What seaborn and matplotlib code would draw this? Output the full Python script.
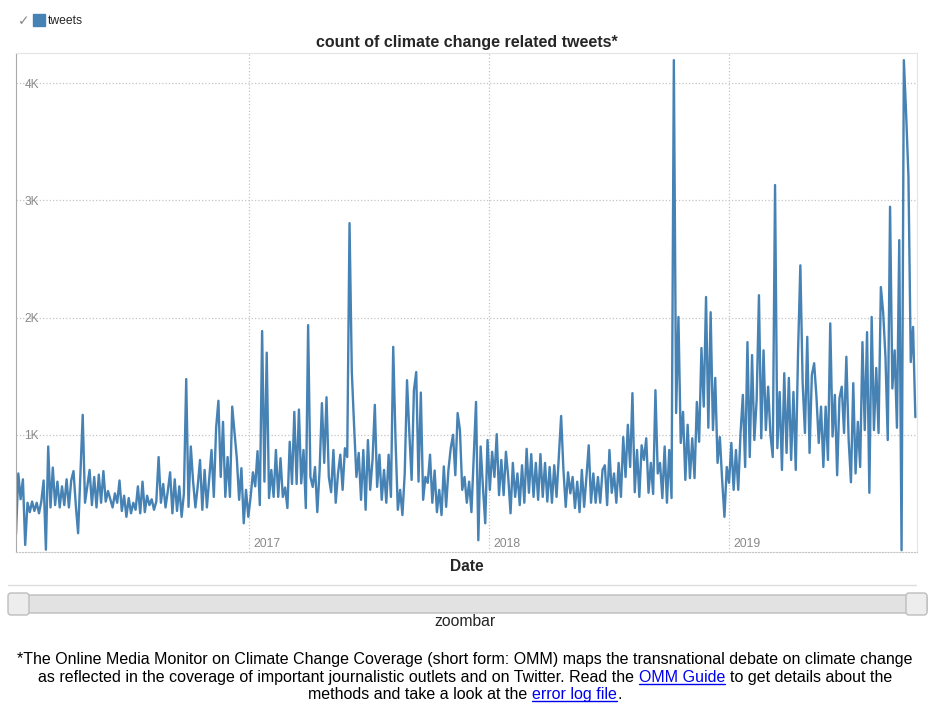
import matplotlib.pyplot as plt
import numpy as np
import pandas as pd
import seaborn as sns
from matplotlib.lines import Line2D
from matplotlib.patches import FancyBboxPatch
from matplotlib.transforms import IdentityTransform, ScaledTranslation

start_date = "2016-01-12"
tweets_2016 = [150, 670, 450, 620, 60, 420, 340, 430, 350, 420,
               330, 430, 610, 20, 900, 380, 720, 400, 600, 380,
               560, 400, 620, 380, 610, 690, 400, 160, 670, 1170,
               420, 560, 700, 400, 640, 380, 660, 420, 690, 430,
               520, 450, 380, 500, 420, 610, 350, 480, 300, 460,
               330, 420, 360, 560, 330, 600, 340, 480, 400, 450,
               360, 430, 810, 420, 580, 380, 520, 680, 330, 620,
               350, 560, 300, 500, 1475, 385, 900, 600, 380, 560,
               785, 360, 700, 380, 620, 870, 470, 1060, 1290, 640,
               1110, 470, 810, 470, 1240, 1025, 800, 445, 715, 245,
               530, 300]
tweets_2017 = [470, 680, 560, 860, 400, 1885, 600, 1700,
               460, 700, 470, 870, 470, 800, 470, 550, 375, 940,
               580, 1195, 580, 1215, 585, 870, 375, 1935, 640, 555,
               725, 340, 700, 1270, 760, 1320, 640, 510, 870, 420,
               670, 830, 530, 885, 810, 2805, 1535, 1070, 640, 845,
               445, 870, 360, 955, 530, 785, 1255, 555, 830, 445,
               700, 420, 830, 470, 1750, 955, 360, 530, 315, 670,
               1465, 1015, 615, 1380, 1535, 600, 1360, 445, 640, 590,
               830, 420, 695, 340, 530, 315, 730, 385, 700, 885,
               1000, 655, 1185, 1040, 530, 640, 420, 600, 340, 810,
               1280, 100, 900, 555, 245, 955]
tweets_2018 = [530, 855, 640, 1005,
               485, 785, 485, 855, 640, 330, 760, 470, 670, 400,
               740, 420, 880, 505, 835, 470, 760, 445, 835, 470,
               760, 430, 725, 420, 740, 470, 810, 1160, 700, 385,
               680, 500, 640, 375, 600, 340, 700, 385, 640, 910,
               420, 670, 420, 640, 420, 700, 740, 400, 870, 505,
               670, 420, 760, 470, 980, 640, 1085, 725, 1355, 510,
               870, 470, 910, 785, 970, 505, 760, 495, 1380, 670,
               760, 460, 900, 420, 870, 460, 4195, 1185, 2005, 930,
               1195, 615, 1085, 630, 970, 630, 1280, 940, 1740, 1240,
               2175, 1060, 2045, 1040, 1485, 760, 980, 615, 300, 725]
tweets_2019 = [590, 930, 530, 870, 530, 1015, 1340, 725, 1790, 810,
               1680, 955, 1295, 2190, 970, 1720, 1040, 1410, 1000, 810,
               3130, 885, 1365, 700, 1525, 845, 1485, 785, 1365, 700,
               1705, 2445, 1440, 1015, 1835, 845, 1510, 1610, 1325, 930,
               1240, 725, 1240, 785, 1950, 985, 1340, 655, 1310, 1410,
               1015, 1665, 955, 595, 1440, 670, 1110, 725, 1790, 1040,
               1875, 505, 2005, 1040, 1570, 1015, 2260, 2045, 1665, 955,
               2945, 1395, 1720, 1060, 2660, 15, 4195, 3730, 3200, 1620,
               1920, 1150]

y_ticks = [1000, 2000, 3000, 4000]
y_tick_labels = ["1K", "2K", "3K", "4K"]
year_starts = pd.to_datetime(["2017-01-01", "2018-01-01", "2019-01-01"])

tweets = tweets_2016 + tweets_2017 + tweets_2018 + tweets_2019
df = pd.DataFrame({"date": pd.date_range(start_date, periods=len(tweets), freq="84h"),
                   "tweets": tweets})

W, H = 950, 717
LINE = "#4682b4"
LINK = "#0000ee"

sns.set_style("white")
plt.rcParams['font.family'] = ['Liberation Sans', 'DejaVu Sans']

fig = plt.figure(figsize=(W / 100, H / 100), dpi=100)
ax = fig.add_axes([16 / W, 1 - 552 / H, (917 - 16) / W, (552 - 53) / H])
sns.lineplot(data=df, x="date", y="tweets", ax=ax, color=LINE, linewidth=1.7)

ax.set_xlim(pd.Timestamp("2016-01-12"), pd.Timestamp("2019-10-14"))
ax.set_ylim(0, 4256)
ax.set_yticks(y_ticks)
ax.set_yticklabels(y_tick_labels)
ax.tick_params(axis='y', direction='in', length=4, color='#999', labelcolor='#888',
               labelsize=8.6, pad=-6)
plt.setp(ax.get_yticklabels(), ha='left')
ax.set_xticks(year_starts)
ax.tick_params(axis='x', length=0, labelbottom=False)
ax.grid(True, ls=':', color='#c4c4c4', lw=0.9)
ax.set_axisbelow(True)
for d in year_starts:
    ax.text(d, 0, str(d.year), transform=ax.get_xaxis_transform() + ScaledTranslation(0.04, 0.02, fig.dpi_scale_trans),
            ha='left', va='bottom', color='#888', fontsize=8.7)

ax.spines['left'].set_color('#aaa')
for s in ['top', 'right']:
    ax.spines[s].set_color('#e4e4e4')
ax.spines['bottom'].set_color('#c4c4c4')
ax.spines['bottom'].set_linestyle(':')

ax.set_title("count of climate change related tweets*", fontsize=11.5, weight='bold', pad=4)
ax.set_xlabel("Date", fontsize=11.2, weight='bold', labelpad=5)
ax.set_ylabel("")

# legend
ax.legend(handles=[Line2D([], [], marker='s', ls='', color=LINE, markersize=8.5)], labels=["tweets"],
          loc='center left', bbox_to_anchor=(34 / W, 1 - 21 / H), bbox_transform=fig.transFigure,
          frameon=False, borderpad=0, borderaxespad=0, handlelength=0.8, handletextpad=0.35,
          fontsize=8.7)
fig.text(18 / W, 1 - 21 / H, "\u2713", color='#888', fontsize=10, ha='left', va='center')

# zoombar and separator (pixel overlay)
ov = fig.add_axes([0, 0, 1, 1], zorder=-1)
ov.set_xlim(0, W)
ov.set_ylim(H, 0)
ov.axis('off')
ov.plot([8, 916], [585, 585], color='#dddddd', lw=1)
ov.add_patch(FancyBboxPatch((9, 595), 918, 18, boxstyle="round,pad=0,rounding_size=3",
                            fc='#e2e2e2', ec='#bdbdbd', lw=1))
for hx in [8, 906]:
    ov.add_patch(FancyBboxPatch((hx, 593), 21, 22, boxstyle="round,pad=0,rounding_size=3",
                                fc='#ededed', ec='#bdbdbd', lw=1))
fig.text(465 / W, 1 - 622 / H, "zoombar", fontsize=11.3, ha='center', va='center')

TEXT_CENTER = 465


def rich_line(pieces, y_px, size=11.5):
    r = fig.canvas.get_renderer()

    def width(s):
        t = fig.text(0, 0, s, fontsize=size, transform=IdentityTransform())
        w = t.get_window_extent(r).width
        t.remove()
        return w

    space = width("a a") - width("aa")
    total = sum(width(s) + (space if gap else 0) for s, c, gap in pieces)
    x = TEXT_CENTER - total / 2
    for s, c, gap in pieces:
        if gap:
            x += space
        fig.text(x, H - y_px, s, transform=IdentityTransform(), fontsize=size, color=c,
                 ha='left', va='baseline')
        w = width(s)
        if c == LINK:
            fig.add_artist(Line2D([x, x + w], [H - y_px - 2, H - y_px - 2],
                                  transform=IdentityTransform(), color=c, lw=1))
        x += w


rich_line([("*The Online Media Monitor on Climate Change Coverage (short form: OMM) maps the "
            "transnational debate on climate change", 'k', False)], 664)
rich_line([("as reflected in the coverage of important journalistic outlets and on Twitter. Read the", 'k', False),
           ("OMM Guide", LINK, True), ("to get details about the", 'k', True)], 682)
rich_line([("methods and take a look at the", 'k', False), ("error log file", LINK, True), (".", 'k', False)], 699)

fig.savefig("out.png", dpi=100)
